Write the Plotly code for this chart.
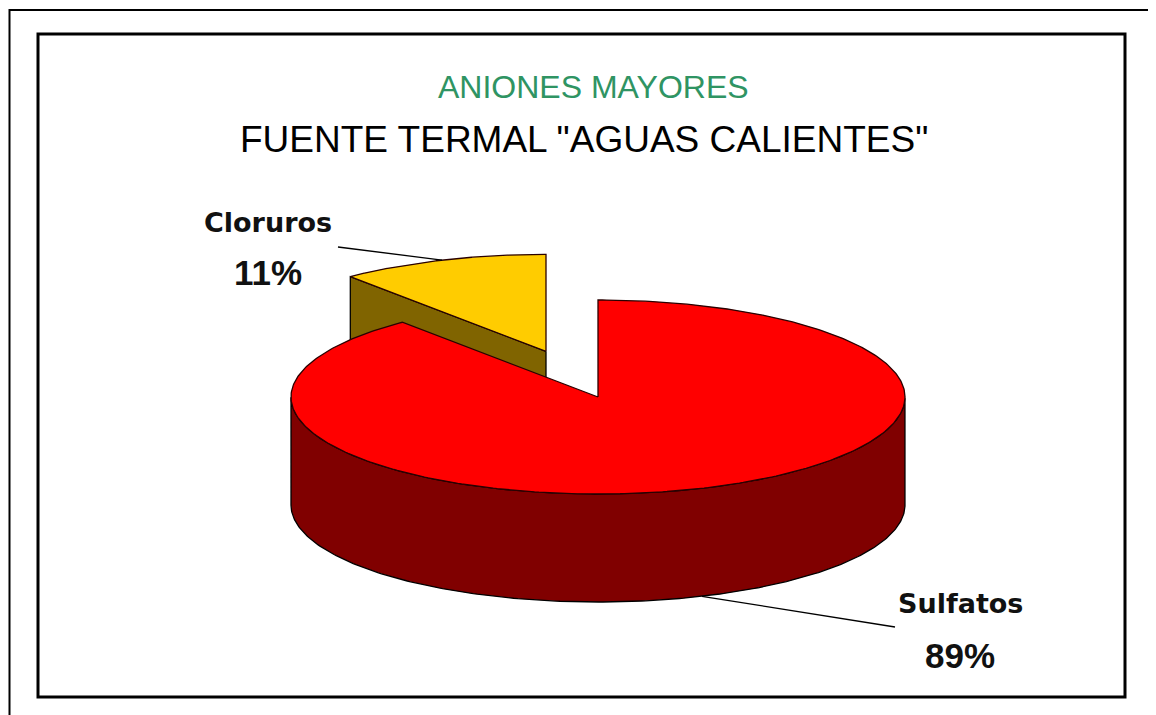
import numpy as np
import plotly.graph_objects as go

# ---- data ----
categories = ["Cloruros", "Sulfatos"]
values = [11, 89]
percent_labels = ["11%", "89%"]
colors_top = ["#FFCC00", "#FF0000"]
colors_side = ["#806400", "#800000"]
title_1 = "ANIONES MAYORES"
title_2 = 'FUENTE TERMAL "AGUAS CALIENTES"'

# ---- pie layout (pixel-like units on the axes) ----
W, H = 1156, 715
OFF = 8                    # page body margin of the html page
cx, cy = 598, 397          # centre of the top ellipse
ra, rb = 307, 97           # ellipse radii
depth = 108                # thickness of the pie
explode = [0.5, 0.0]       # exploded fraction of radius per slice
start = 90.0               # first slice starts at 12 o'clock, counter-clockwise

total = float(sum(values))
fig = go.Figure()


def pt(theta_deg, ox=0.0, oy=0.0, dz=0.0):
    t = np.radians(theta_deg)
    return cx + ox + ra * np.cos(t), cy + oy - rb * np.sin(t) + dz


def add_poly(xs, ys, fill, line="#1a0000"):
    fig.add_trace(go.Scatter(x=list(xs) + [xs[0]], y=list(ys) + [ys[0]], mode="lines",
                             fill="toself", fillcolor=fill,
                             line=dict(color=line, width=1.3),
                             hoverinfo="skip", showlegend=False))


slices = []
ang = start
for v, e in zip(values, explode):
    t1 = ang
    t2 = ang + 360.0 * v / total
    mid = (t1 + t2) / 2
    m = np.radians(mid)
    ox = ra * e * np.cos(m)
    oy = -rb * e * np.sin(m)
    slices.append((t1, t2, mid, ox, oy))
    ang = t2

# draw order: exploded (back) slice first
for i, (t1, t2, mid, ox, oy) in enumerate(slices):
    # outer side wall: front part of the arc
    ths = np.linspace(t1, t2, 400)
    front = [t for t in ths if np.sin(np.radians(t)) < 0]
    if front:
        front = np.array(front)
        xs_top, ys_top = pt(front, ox, oy)
        xs_bot, ys_bot = pt(front[::-1], ox, oy, depth)
        add_poly(np.concatenate([xs_top, xs_bot]), np.concatenate([ys_top, ys_bot]),
                 colors_side[i], line="#000000")
    # radial faces
    for t, sign in ((t1, -1), (t2, 1)):
        normal = np.radians(t + sign * 90)
        if np.sin(normal) < -1e-6:
            ex, ey = pt(t, ox, oy)
            ax_, ay_ = cx + ox, cy + oy
            add_poly([ax_, ex, ex, ax_], [ay_, ey, ey + depth, ay_ + depth],
                     colors_side[i], line="#000000")
    # top face
    ths = np.linspace(t1, t2, 400)
    xs, ys = pt(ths, ox, oy)
    add_poly(np.concatenate([[cx + ox], xs]), np.concatenate([[cy + oy], ys]),
             colors_top[i], line="#2a0000")

# ---- leader lines & labels ----
label_pos = [(268, 222, 268, 272, 338, 247), (960, 603, 960, 655, 895, 627)]
for i, (t1, t2, mid, ox, oy) in enumerate(slices):
    lx, ly, px, py, ex, ey = label_pos[i]
    if np.sin(np.radians(mid)) < 0:
        sx, sy = pt(mid, ox, oy, depth)
    else:
        sx, sy = pt(mid, ox, oy)
    fig.add_trace(go.Scatter(x=[ex, sx], y=[ey, sy], mode="lines",
                             line=dict(color="#000000", width=1.3),
                             hoverinfo="skip", showlegend=False))
    fig.add_annotation(x=lx, y=ly, text="<b>%s</b>" % categories[i], showarrow=False,
                       font=dict(family="DejaVu Sans", size=27, color="#111111"),
                       xanchor="center", yanchor="middle")
    fig.add_annotation(x=px, y=py, text="<b>%s</b>" % percent_labels[i], showarrow=False,
                       font=dict(family="Liberation Sans", size=35, color="#111111"),
                       xanchor="center", yanchor="middle")

# ---- titles ----
fig.add_annotation(x=593, y=87, text=title_1, showarrow=False,
                   font=dict(family="Liberation Sans", size=32, color="#2f9463"),
                   xanchor="center", yanchor="middle")
fig.add_annotation(x=584, y=139, text=title_2, showarrow=False,
                   font=dict(family="Liberation Sans", size=37, color="#000000"),
                   xanchor="center", yanchor="middle")

# ---- frames ----
fig.add_shape(type="rect", x0=9.5, y0=10, x1=1180, y1=740,
              line=dict(color="#000000", width=2), layer="below")
fig.add_shape(type="rect", x0=38, y0=34, x1=1125, y1=697,
              line=dict(color="#000000", width=3), layer="below")

fig.update_xaxes(range=[OFF, W + OFF], visible=False, fixedrange=True)
fig.update_yaxes(range=[H + OFF, OFF], visible=False, fixedrange=True)
fig.update_layout(width=W, height=H, margin=dict(l=0, r=0, t=0, b=0),
                  paper_bgcolor="white", plot_bgcolor="white", showlegend=False)

fig.write_html("out.html")
